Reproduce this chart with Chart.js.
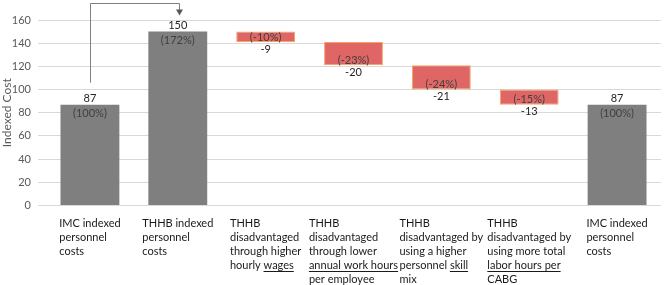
<!DOCTYPE html>
<html><head><meta charset="utf-8">
<script src="https://cdn.jsdelivr.net/npm/chart.js@4/dist/chart.umd.min.js"></script>
<style>html,body{margin:0;padding:0;background:#fff}#wrap{width:664px;height:285px}</style>
</head><body><div id="wrap"><canvas id="c" width="664" height="285"></canvas></div>
<script>
// ---- data ----
const categories = [
  ["IMC indexed", "personnel", "costs"],
  ["THHB indexed", "personnel", "costs"],
  ["THHB", "disadvantaged", "through higher", "hourly _wages_"],
  ["THHB", "disadvantaged", "through lower", "_annual work hours_", "per employee"],
  ["THHB", "disadvantaged by", "using a higher", "personnel _skill_", "_mix_"],
  ["THHB", "disadvantaged by", "using more total", "_labor hours per_", "_CABG_"],
  ["IMC indexed", "personnel", "costs"]
];
const barStarts = [0, 0, 141, 121, 100, 87, 0];
const barEnds = [87, 150, 150, 141, 121, 100, 87];
const valueLabels = ["87", "150", "-9", "-20", "-21", "-13", "87"];
const pctLabels = ["(100%)", "(172%)", "(-10%)", "(-23%)", "(-24%)", "(-15%)", "(100%)"];
const barKinds = ["total", "total", "decrease", "decrease", "decrease", "decrease", "total"];
const yTicks = [0, 20, 40, 60, 80, 100, 120, 140, 160];
const yTitle = "Indexed Cost";

const FONT = "Lato, 'Open Sans', sans-serif";

const labelPlugin = {
  id: 'labels',
  afterDatasetsDraw(chart) {
    const ctx = chart.ctx;
    const meta = chart.getDatasetMeta(0);
    ctx.save();
    ctx.textAlign = 'center';
    ctx.textBaseline = 'middle';
    ctx.font = "11px " + FONT;
    meta.data.forEach((bar, i) => {
      const top = Math.min(bar.y, bar.base), bottom = Math.max(bar.y, bar.base);
      if (barKinds[i] === 'total') {
        ctx.fillStyle = '#262626';
        ctx.fillText(valueLabels[i], bar.x, top - 6);
        ctx.fillStyle = '#404040';
        ctx.fillText(pctLabels[i], bar.x, top + 9);
      } else {
        ctx.fillStyle = '#404040';
        ctx.fillText(pctLabels[i], bar.x, bottom - 5);
        ctx.fillStyle = '#262626';
        ctx.fillText(valueLabels[i], bar.x, bottom + 7);
      }
    });
    // category labels
    ctx.font = "11px " + FONT;
    ctx.textAlign = 'left';
    ctx.textBaseline = 'middle';
    ctx.fillStyle = '#1a1a1a';
    const y0 = chart.chartArea.bottom + 17.5;
    meta.data.forEach((bar, i) => {
      const lines = categories[i];
      const plain = lines.map(l => l.replace(/_/g, ''));
      const w = Math.max(...plain.map(l => ctx.measureText(l).width));
      const left = bar.x - w / 2;
      lines.forEach((line, j) => {
        const y = y0 + j * 14;
        let x = left;
        const parts = line.split('_');
        parts.forEach((p, k) => {
          if (!p) return;
          ctx.fillText(p, x, y);
          const pw = ctx.measureText(p).width;
          if (k % 2 === 1) {
            ctx.strokeStyle = '#1a1a1a';
            ctx.lineWidth = 1;
            ctx.beginPath();
            ctx.moveTo(x, Math.round(y + 6) + 0.5);
            ctx.lineTo(x + pw, Math.round(y + 6) + 0.5);
            ctx.stroke();
          }
          x += pw;
        });
      });
    });
    // connector arrow from first bar to second bar
    const b0 = meta.data[0], b1 = meta.data[1];
    const xa = Math.round(b0.x) + 0.5, xb = Math.round(b1.x) + 1.5;
    const ya = b0.y - 22, yt = 3.5, tip = b1.y - 16;
    ctx.strokeStyle = '#7f7f7f';
    ctx.lineWidth = 1;
    ctx.beginPath();
    ctx.moveTo(xa, ya);
    ctx.lineTo(xa, yt);
    ctx.lineTo(xb, yt);
    ctx.lineTo(xb, tip - 5);
    ctx.stroke();
    ctx.fillStyle = '#595959';
    ctx.beginPath();
    ctx.moveTo(xb - 3.5, tip - 6);
    ctx.lineTo(xb + 3.5, tip - 6);
    ctx.lineTo(xb, tip);
    ctx.closePath();
    ctx.fill();
    ctx.restore();
  }
};

new Chart(document.getElementById('c'), {
  type: 'bar',
  data: {
    labels: categories.map(c => c.join(' ').replace(/_/g, '')),
    datasets: [{
      data: barStarts.map((s, i) => [s, barEnds[i]]),
      backgroundColor: barKinds.map(k => k === 'total' ? '#7f7f7f' : '#e06666'),
      borderColor: barKinds.map(k => k === 'total' ? '#7f7f7f' : '#f4a460'),
      borderWidth: barKinds.map(k => k === 'total' ? 0 : 1),
      borderSkipped: false,
      barPercentage: 0.67,
      categoryPercentage: 1
    }]
  },
  options: {
    responsive: false,
    animation: false,
    layout: { padding: { top: 20, bottom: 79.5, right: 3, left: 0 } },
    plugins: { legend: { display: false }, tooltip: { enabled: false } },
    scales: {
      x: {
        display: false,
        offset: true
      },
      y: {
        min: 0, max: 160,
        afterFit(scale) { scale.width = 46; },
        afterBuildTicks(scale) { scale.ticks = yTicks.map(v => ({ value: v })); },
        grid: { color: '#d9d9d9', lineWidth: 1, drawTicks: true, tickLength: 8 },
        border: { display: false },
        ticks: { color: '#595959', font: { size: 11, family: FONT }, padding: 7 },
        title: { display: true, text: yTitle, color: '#595959', font: { size: 12, family: FONT }, padding: { top: 0, bottom: 0 } }
      }
    }
  },
  plugins: [labelPlugin]
});
</script>
</body></html>
